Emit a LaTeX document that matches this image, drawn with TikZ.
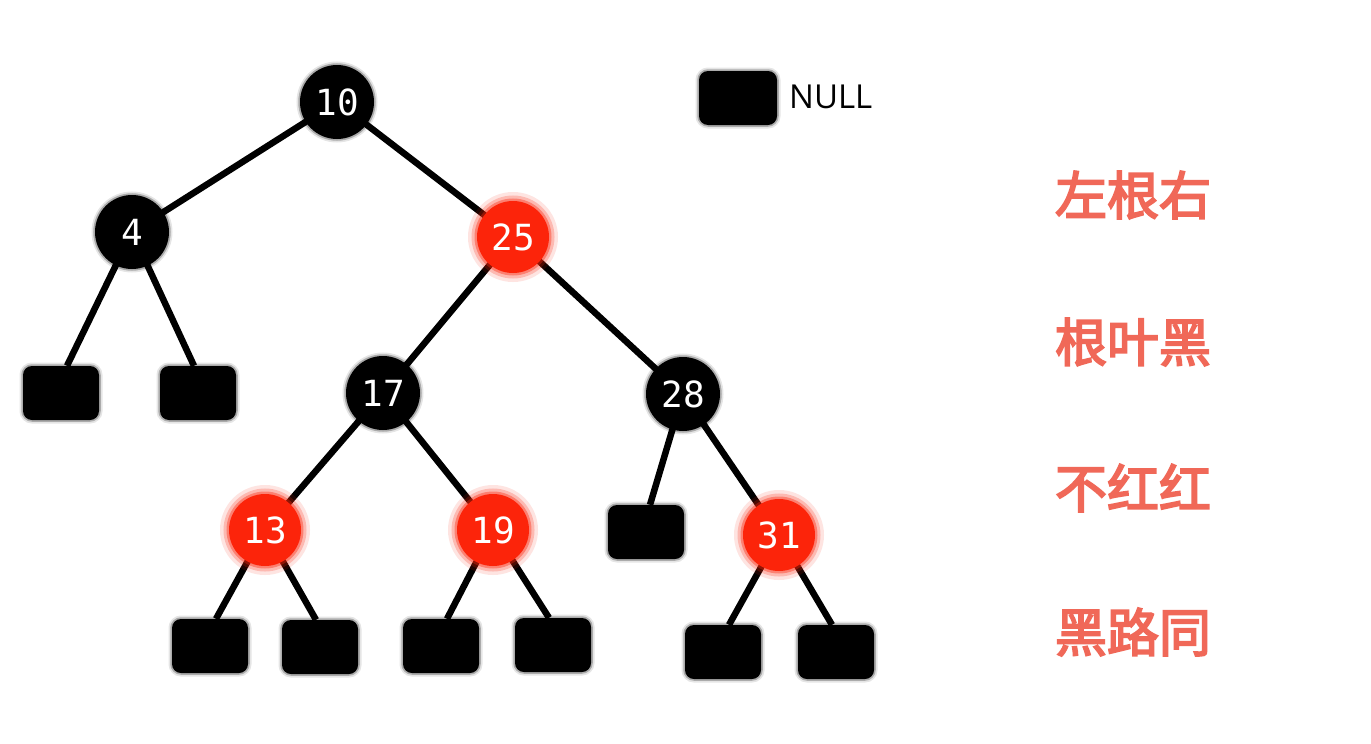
\documentclass[tikz,border=0pt]{standalone}
\usepackage{fontspec}
\newfontfamily\numfont{DejaVu Sans Mono}
\newfontfamily\labfont{Open Sans}
\newfontfamily\cjk[AutoFakeBold=3.5]{Noto Sans CJK SC}
\definecolor{rbred}{RGB}{252,36,10}
\definecolor{rulered}{RGB}{240,104,88}
\pgfdeclarelayer{bg}
\pgfsetlayers{bg,main}
\begin{document}
\begin{tikzpicture}[x=1pt,y=-1pt,
  blk/.style={circle, fill=black, minimum size=74pt, inner sep=0pt,
    text=white, font=\numfont\fontsize{36}{36}\selectfont,
    preaction={draw=black, draw opacity=0.10, line width=7pt},
    preaction={draw=black, draw opacity=0.25, line width=3.5pt}},
  rd/.style={circle, fill=rbred, minimum size=72pt, inner sep=0pt,
    text=white, font=\numfont\fontsize{36}{36}\selectfont,
    preaction={draw=rbred, draw opacity=0.12, line width=18pt},
    preaction={draw=rbred, draw opacity=0.22, line width=11pt},
    preaction={draw=rbred, draw opacity=0.38, line width=5pt}},
  nil/.style={rectangle, rounded corners=9pt, fill=black,
    minimum width=76pt, minimum height=54pt, inner sep=0pt,
    preaction={draw=black, draw opacity=0.10, line width=7pt},
    preaction={draw=black, draw opacity=0.25, line width=3.5pt}},
  edge/.style={line width=6.5pt, black},
  rule/.style={text=rulered, font=\cjk\bfseries\fontsize{52}{52}\selectfont, anchor=center}
]
\useasboundingbox (0,0) rectangle (1371,744);

% inner nodes
\node[blk] (n10) at (337,102) {10};
\node[blk] (n4)  at (132,232) {4};
\node[rd]  (n25) at (513,237) {25};
\node[blk] (n17) at (383,393) {17};
\node[blk] (n28) at (683,394) {28};
\node[rd]  (n13) at (265,530) {13};
\node[rd]  (n19) at (493,530) {19};
\node[rd]  (n31) at (779,535) {31};

% NULL leaves
\node[nil] (l1) at (61,393) {};
\node[nil] (l2) at (198,393) {};
\node[nil] (l3) at (210,646) {};
\node[nil] (l4) at (320,647) {};
\node[nil] (l5) at (441,646) {};
\node[nil] (l6) at (553,645) {};
\node[nil] (l7) at (646,532) {};
\node[nil] (l8) at (723,652) {};
\node[nil] (l9) at (836,652) {};

% white ground and edges, underneath the nodes
\begin{pgfonlayer}{bg}
\fill[white] (0,0) rectangle (1371,744);
\draw[edge] (n10.center) -- (n4.center);
\draw[edge] (n10.center) -- (n25.center);
\draw[edge] (n4.center) -- ([xshift=6pt]l1.north);
\draw[edge] (n4.center) -- ([xshift=-4pt]l2.north);
\draw[edge] (n25.center) -- (n17.center);
\draw[edge] (n25.center) -- (n28.center);
\draw[edge] (n17.center) -- (n13.center);
\draw[edge] (n17.center) -- (n19.center);
\draw[edge] (n28.center) -- ([xshift=4pt]l7.north);
\draw[edge] (n28.center) -- (n31.center);
\draw[edge] (n13.center) -- ([xshift=6pt]l3.north);
\draw[edge] (n13.center) -- ([xshift=-4pt]l4.north);
\draw[edge] (n19.center) -- ([xshift=6pt]l5.north);
\draw[edge] (n19.center) -- ([xshift=-4pt]l6.north);
\draw[edge] (n31.center) -- ([xshift=6pt]l8.north);
\draw[edge] (n31.center) -- ([xshift=-4pt]l9.north);
\end{pgfonlayer}

% legend
\node[nil, minimum width=78pt, minimum height=54pt] (key) at (738,98) {};
\node[anchor=west, font=\labfont\fontsize{33}{33}\selectfont, inner sep=0pt] (keytext) at (789,97) {NULL};

% rules
\node[rule] (r1) at (1133,195) {左根右};
\node[rule] (r2) at (1133,342) {根叶黑};
\node[rule] (r3) at (1133,488) {不红红};
\node[rule] (r4) at (1133,632) {黑路同};
\end{tikzpicture}
\end{document}
